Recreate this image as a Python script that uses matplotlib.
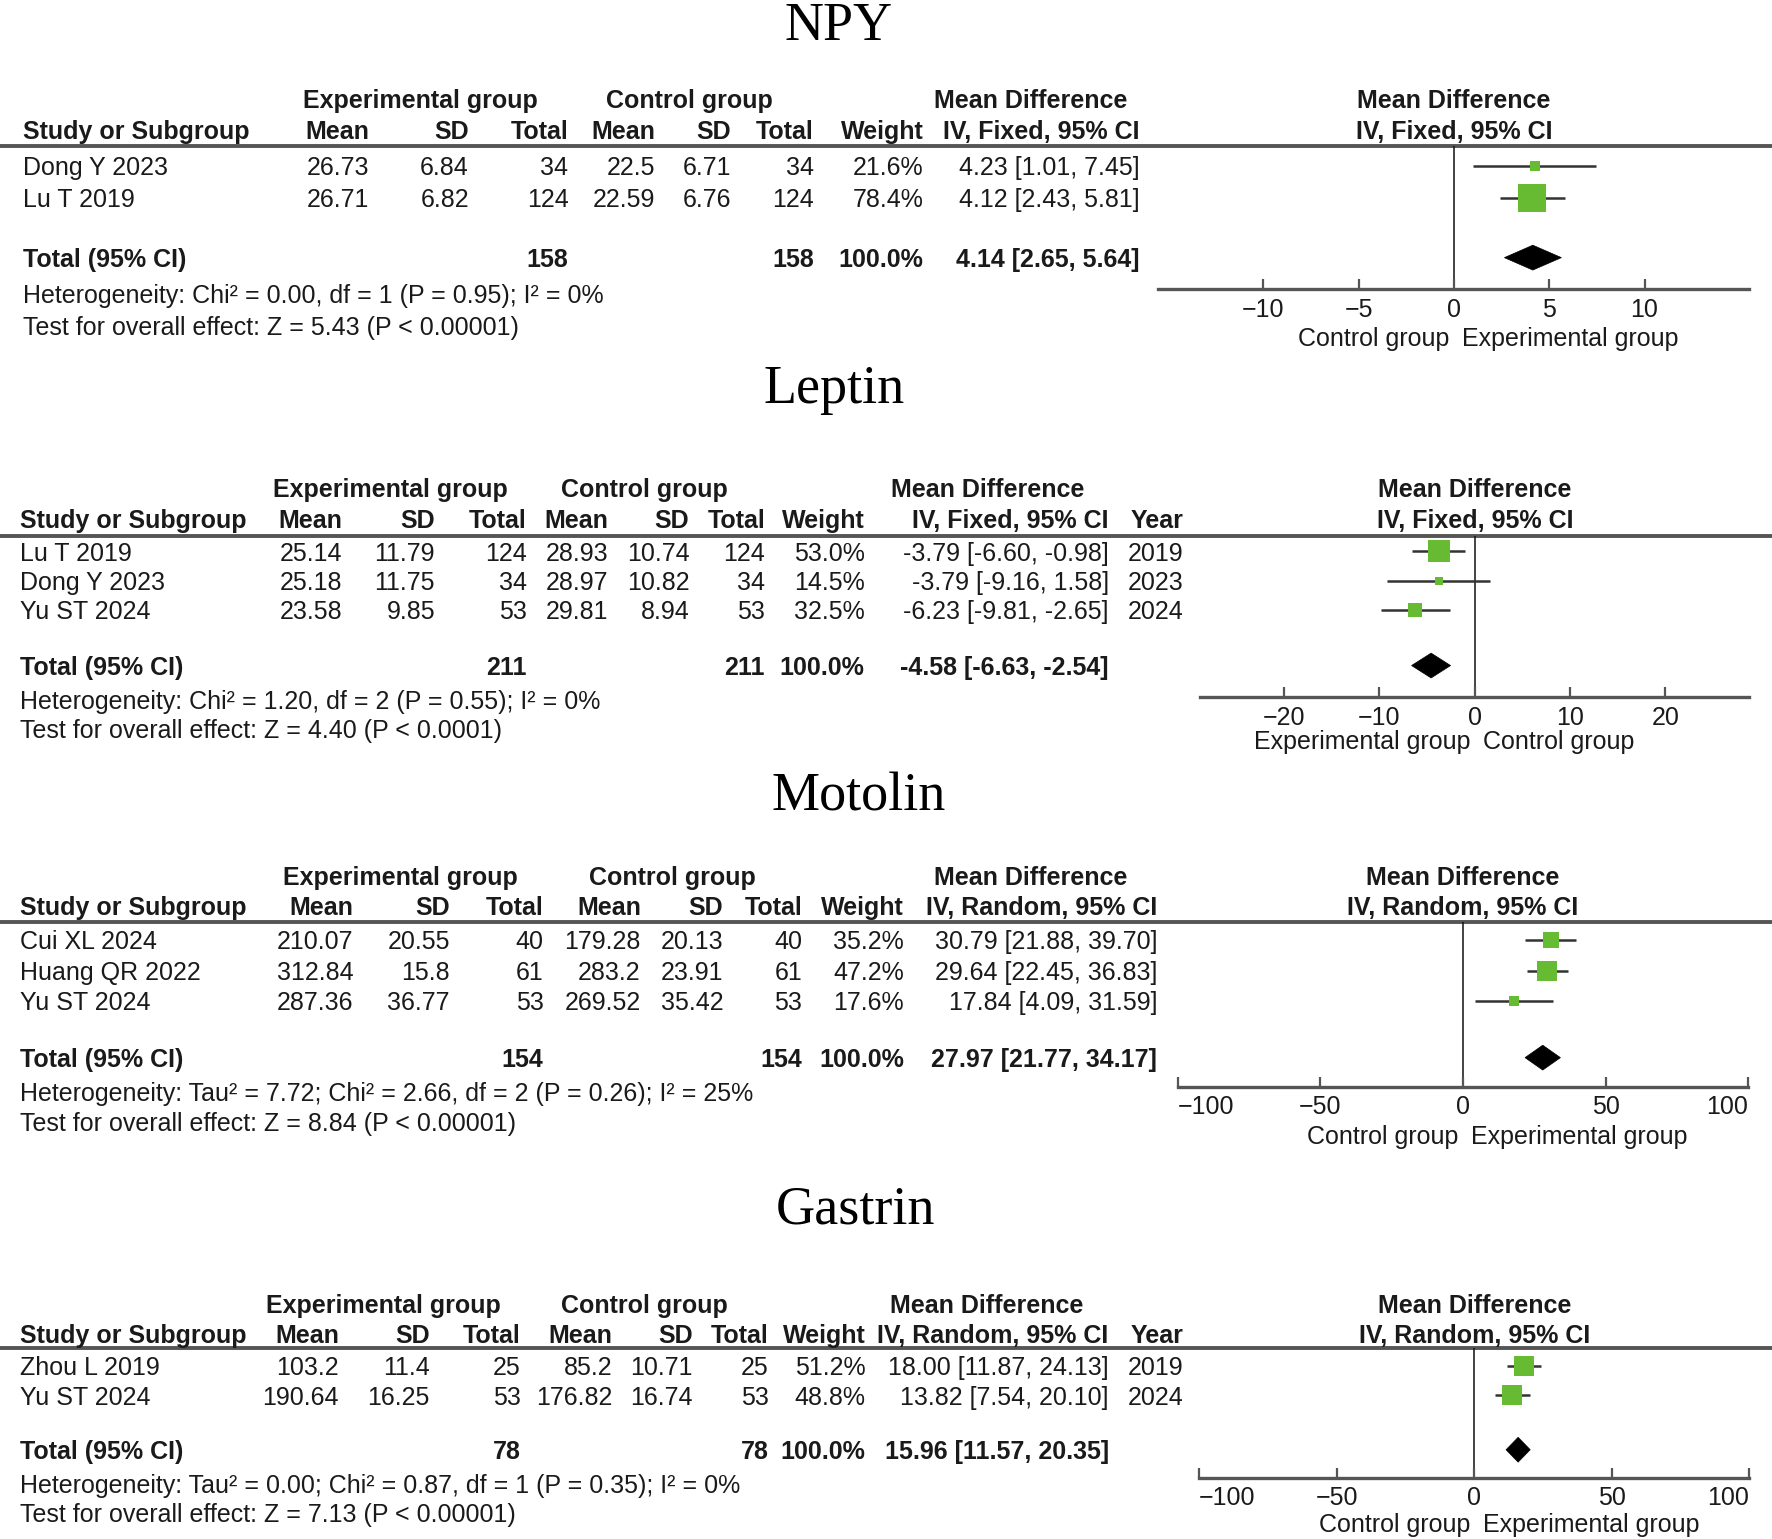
#!/usr/bin/env python3
import matplotlib
matplotlib.use("Agg")
import matplotlib.pyplot as plt
from matplotlib.patches import Polygon
from matplotlib.transforms import blended_transform_factory, offset_copy

# ---------------- data ----------------
NPY_STUDY = ["Dong Y 2023", "Lu T 2019"]
NPY_EXP_MEAN = [26.73, 26.71]
NPY_EXP_SD = [6.84, 6.82]
NPY_EXP_N = [34, 124]
NPY_CTL_MEAN = [22.5, 22.59]
NPY_CTL_SD = [6.71, 6.76]
NPY_CTL_N = [34, 124]
NPY_WEIGHT = [21.6, 78.4]
NPY_MD = [4.23, 4.12]
NPY_LO = [1.01, 2.43]
NPY_HI = [7.45, 5.81]
NPY_TOTAL_N = [158, 158]
NPY_POOLED = [4.14, 2.65, 5.64]
NPY_HET = "Heterogeneity: Chi² = 0.00, df = 1 (P = 0.95); I² = 0%"
NPY_TEST = "Test for overall effect: Z = 5.43 (P < 0.00001)"
NPY_TICKS = [-10, -5, 0, 5, 10]
NPY_FAVOURS = ["Control group", "Experimental group"]

LEP_STUDY = ["Lu T 2019", "Dong Y 2023", "Yu ST 2024"]
LEP_EXP_MEAN = [25.14, 25.18, 23.58]
LEP_EXP_SD = [11.79, 11.75, 9.85]
LEP_EXP_N = [124, 34, 53]
LEP_CTL_MEAN = [28.93, 28.97, 29.81]
LEP_CTL_SD = [10.74, 10.82, 8.94]
LEP_CTL_N = [124, 34, 53]
LEP_WEIGHT = [53.0, 14.5, 32.5]
LEP_MD = [-3.79, -3.79, -6.23]
LEP_LO = [-6.60, -9.16, -9.81]
LEP_HI = [-0.98, 1.58, -2.65]
LEP_YEAR = [2019, 2023, 2024]
LEP_TOTAL_N = [211, 211]
LEP_POOLED = [-4.58, -6.63, -2.54]
LEP_HET = "Heterogeneity: Chi² = 1.20, df = 2 (P = 0.55); I² = 0%"
LEP_TEST = "Test for overall effect: Z = 4.40 (P < 0.0001)"
LEP_TICKS = [-20, -10, 0, 10, 20]
LEP_FAVOURS = ["Experimental group", "Control group"]

MOT_STUDY = ["Cui XL 2024", "Huang QR 2022", "Yu ST 2024"]
MOT_EXP_MEAN = [210.07, 312.84, 287.36]
MOT_EXP_SD = [20.55, 15.8, 36.77]
MOT_EXP_N = [40, 61, 53]
MOT_CTL_MEAN = [179.28, 283.2, 269.52]
MOT_CTL_SD = [20.13, 23.91, 35.42]
MOT_CTL_N = [40, 61, 53]
MOT_WEIGHT = [35.2, 47.2, 17.6]
MOT_MD = [30.79, 29.64, 17.84]
MOT_LO = [21.88, 22.45, 4.09]
MOT_HI = [39.70, 36.83, 31.59]
MOT_TOTAL_N = [154, 154]
MOT_POOLED = [27.97, 21.77, 34.17]
MOT_HET = "Heterogeneity: Tau² = 7.72; Chi² = 2.66, df = 2 (P = 0.26); I² = 25%"
MOT_TEST = "Test for overall effect: Z = 8.84 (P < 0.00001)"
MOT_TICKS = [-100, -50, 0, 50, 100]
MOT_FAVOURS = ["Control group", "Experimental group"]

GAS_STUDY = ["Zhou L 2019", "Yu ST 2024"]
GAS_EXP_MEAN = [103.2, 190.64]
GAS_EXP_SD = [11.4, 16.25]
GAS_EXP_N = [25, 53]
GAS_CTL_MEAN = [85.2, 176.82]
GAS_CTL_SD = [10.71, 16.74]
GAS_CTL_N = [25, 53]
GAS_WEIGHT = [51.2, 48.8]
GAS_MD = [18.00, 13.82]
GAS_LO = [11.87, 7.54]
GAS_HI = [24.13, 20.10]
GAS_YEAR = [2019, 2024]
GAS_TOTAL_N = [78, 78]
GAS_POOLED = [15.96, 11.57, 20.35]
GAS_HET = "Heterogeneity: Tau² = 0.00; Chi² = 0.87, df = 1 (P = 0.35); I² = 0%"
GAS_TEST = "Test for overall effect: Z = 7.13 (P < 0.00001)"
GAS_TICKS = [-100, -50, 0, 50, 100]
GAS_FAVOURS = ["Control group", "Experimental group"]

panels = [
    dict(name="NPY", method="IV, Fixed, 95% CI", study=NPY_STUDY, exp_mean=NPY_EXP_MEAN,
         exp_sd=NPY_EXP_SD, exp_n=NPY_EXP_N, ctl_mean=NPY_CTL_MEAN, ctl_sd=NPY_CTL_SD,
         ctl_n=NPY_CTL_N, weight=NPY_WEIGHT, md=NPY_MD, lo=NPY_LO, hi=NPY_HI, year=None,
         total_n=NPY_TOTAL_N, pooled=NPY_POOLED, het=NPY_HET, test=NPY_TEST,
         ticks=NPY_TICKS, favours=NPY_FAVOURS),
    dict(name="Leptin", method="IV, Fixed, 95% CI", study=LEP_STUDY, exp_mean=LEP_EXP_MEAN,
         exp_sd=LEP_EXP_SD, exp_n=LEP_EXP_N, ctl_mean=LEP_CTL_MEAN, ctl_sd=LEP_CTL_SD,
         ctl_n=LEP_CTL_N, weight=LEP_WEIGHT, md=LEP_MD, lo=LEP_LO, hi=LEP_HI, year=LEP_YEAR,
         total_n=LEP_TOTAL_N, pooled=LEP_POOLED, het=LEP_HET, test=LEP_TEST,
         ticks=LEP_TICKS, favours=LEP_FAVOURS),
    dict(name="Motolin", method="IV, Random, 95% CI", study=MOT_STUDY, exp_mean=MOT_EXP_MEAN,
         exp_sd=MOT_EXP_SD, exp_n=MOT_EXP_N, ctl_mean=MOT_CTL_MEAN, ctl_sd=MOT_CTL_SD,
         ctl_n=MOT_CTL_N, weight=MOT_WEIGHT, md=MOT_MD, lo=MOT_LO, hi=MOT_HI, year=None,
         total_n=MOT_TOTAL_N, pooled=MOT_POOLED, het=MOT_HET, test=MOT_TEST,
         ticks=MOT_TICKS, favours=MOT_FAVOURS),
    dict(name="Gastrin", method="IV, Random, 95% CI", study=GAS_STUDY, exp_mean=GAS_EXP_MEAN,
         exp_sd=GAS_EXP_SD, exp_n=GAS_EXP_N, ctl_mean=GAS_CTL_MEAN, ctl_sd=GAS_CTL_SD,
         ctl_n=GAS_CTL_N, weight=GAS_WEIGHT, md=GAS_MD, lo=GAS_LO, hi=GAS_HI, year=GAS_YEAR,
         total_n=GAS_TOTAL_N, pooled=GAS_POOLED, het=GAS_HET, test=GAS_TEST,
         ticks=GAS_TICKS, favours=GAS_FAVOURS),
]

# ---------------- layout (reference pixel grid 1568 x 1362) ----------------
W, H = 1568, 1362
DPI = 100
S = 1772 / W
LAYOUT = [
    dict(title=(742, 35), h1=87, h2=115, rule=129, rows=[147, 175], total=228, het=260, test=288,
         study_x=20, cols=[327, 415, 503, 580, 647, 720, 817, 1008], year_x=None,
         groups=[372, 610, 912], fx=(1025, 1548), lim=15.5, axis_y=256, ends=False, lab_y=298),
    dict(title=(738, 357), h1=432, h2=459, rule=474, rows=[488, 514, 540], total=589, het=619, test=645,
         study_x=18, cols=[303, 385, 466, 538, 610, 677, 765, 981], year_x=1047,
         groups=[345, 570, 874], fx=(1062, 1548), lim=28.8, axis_y=617, ends=False, lab_y=655),
    dict(title=(760, 717), h1=775, h2=802, rule=816, rows=[832, 859, 886], total=936, het=966, test=993,
         study_x=18, cols=[313, 398, 481, 567, 640, 710, 800, 1024], year_x=None,
         groups=[354, 595, 912], fx=(1042, 1547), lim=100, axis_y=962, ends=True, lab_y=1004),
    dict(title=(757, 1083), h1=1154, h2=1180, rule=1193, rows=[1209, 1235], total=1283, het=1313, test=1339,
         study_x=18, cols=[300, 380, 461, 542, 613, 680, 766, 981], year_x=1047,
         groups=[339, 570, 873], fx=(1061, 1548), lim=100, axis_y=1308, ends=True, lab_y=1348),
]

SANS = "Liberation Sans"
SERIF = "Liberation Serif"
FS = 18
DY = 2  # small nudge so cap heights sit on the row centre
TXT = "#1a1a1a"
GREEN = "#66bb33"
LINE = "#333333"
AXIS = "#555555"

plt.rcParams["font.family"] = [SANS, "DejaVu Sans"]


def ci_text(md, lo, hi):
    return f"{md:.2f} [{lo:.2f}, {hi:.2f}]"


def draw_panel(fig, bg, p, L):
    kw = dict(fontsize=FS, color=TXT, va="center")
    bkw = dict(kw, fontweight="bold")
    bg.text(L["title"][0], L["title"][1], p["name"], family=SERIF, fontsize=39,
            color="black", ha="center", va="baseline")

    c = L["cols"]
    g = L["groups"]
    h1, h2 = L["h1"] + DY, L["h2"] + DY
    bg.text(g[0], h1, "Experimental group", ha="center", **bkw)
    bg.text(g[1], h1, "Control group", ha="center", **bkw)
    bg.text(g[2], h1, "Mean Difference", ha="center", **bkw)
    bg.text(L["study_x"], h2, "Study or Subgroup", ha="left", **bkw)
    heads = ["Mean", "SD", "Total", "Mean", "SD", "Total", "Weight", p["method"]]
    for x, h in zip(c, heads):
        bg.text(x, h2, h, ha="right", **bkw)
    if p["year"] is not None:
        bg.text(L["year_x"], h2, "Year", ha="right", **bkw)
    bg.hlines(L["rule"], 0, W, color=AXIS, lw=2.8)

    for i, y in enumerate(L["rows"]):
        vals = [str(p["exp_mean"][i]), str(p["exp_sd"][i]), str(p["exp_n"][i]),
                str(p["ctl_mean"][i]), str(p["ctl_sd"][i]), str(p["ctl_n"][i]),
                f"{p['weight'][i]:.1f}%", ci_text(p["md"][i], p["lo"][i], p["hi"][i])]
        bg.text(L["study_x"], y + DY, p["study"][i], ha="left", **kw)
        for x, v in zip(c, vals):
            bg.text(x, y + DY, v, ha="right", **kw)
        if p["year"] is not None:
            bg.text(L["year_x"], y + DY, str(p["year"][i]), ha="right", **kw)

    t = L["total"]
    ty = t + DY
    bg.text(L["study_x"], ty, "Total (95% CI)", ha="left", **bkw)
    bg.text(c[2], ty, str(p["total_n"][0]), ha="right", **bkw)
    bg.text(c[5], ty, str(p["total_n"][1]), ha="right", **bkw)
    bg.text(c[6], ty, f"{sum(p['weight']):.1f}%", ha="right", **bkw)
    bg.text(c[7], ty, ci_text(*p["pooled"]), ha="right", **bkw)
    bg.text(L["study_x"], L["het"] + DY, p["het"], ha="left", **kw)
    bg.text(L["study_x"], L["test"] + DY, p["test"], ha="left", **kw)

    # forest plot
    x0, x1 = L["fx"]
    ay, top = L["axis_y"], L["rule"]
    ax = fig.add_axes([x0 / W, 1 - ay / H, (x1 - x0) / W, (ay - top) / H])
    ax.set_xlim(-L["lim"], L["lim"])
    ax.set_ylim(ay, top)
    ax.patch.set_visible(False)
    for s in ("top", "left", "right"):
        ax.spines[s].set_visible(False)
    ax.spines["bottom"].set(color=AXIS, linewidth=2.4)
    ax.set_yticks([])
    ax.set_xticks(p["ticks"])
    ax.tick_params(axis="x", which="major", direction="in", length=7, width=1.6,
                   color=AXIS, pad=6, labelsize=FS, labelcolor=TXT)
    if L["ends"]:
        ax.set_xticks([-L["lim"], L["lim"]], minor=True)
        ax.tick_params(axis="x", which="minor", direction="out", length=7, width=1.6, color=AXIS)
        labs = ax.get_xticklabels()
        labs[0].set_horizontalalignment("left")
        labs[-1].set_horizontalalignment("right")
    ax.axvline(0, color="#111111", lw=1.1, zorder=1)

    for i, y in enumerate(L["rows"]):
        ax.plot([p["lo"][i], p["hi"][i]], [y, y], color=LINE, lw=1.8,
                solid_capstyle="butt", zorder=2)
        side = 0.97 * p["weight"][i] ** 0.75 * S
        ax.plot([p["md"][i]], [y], marker="s", ms=side * 72 / DPI, mfc=GREEN,
                mec=GREEN, mew=0, ls="none", zorder=3)
    md, lo, hi = p["pooled"]
    hh = 11
    ax.add_patch(Polygon([(lo, t), (md, t - hh), (hi, t), (md, t + hh)], closed=True,
                         fc="black", ec="black", lw=0.5, zorder=3))

    tr = blended_transform_factory(ax.transData, bg.transData)
    bg.text(0, h1, "Mean Difference", transform=tr, ha="center", **bkw)
    bg.text(0, h2, p["method"], transform=tr, ha="center", **bkw)
    bg.text(0, L["lab_y"] + DY, p["favours"][0], ha="right",
            transform=offset_copy(tr, fig=fig, x=-3, units="points"), **kw)
    bg.text(0, L["lab_y"] + DY, p["favours"][1], ha="left",
            transform=offset_copy(tr, fig=fig, x=6, units="points"), **kw)


def main():
    fig = plt.figure(figsize=(17.72, 15.39), dpi=DPI)
    bg = fig.add_axes([0, 0, 1, 1])
    bg.set_xlim(0, W)
    bg.set_ylim(H, 0)
    bg.axis("off")
    bg.set_zorder(0)
    for p, L in zip(panels, LAYOUT):
        draw_panel(fig, bg, p, L)
    fig.savefig("out.png", dpi=DPI, facecolor="white")


if __name__ == "__main__":
    main()
